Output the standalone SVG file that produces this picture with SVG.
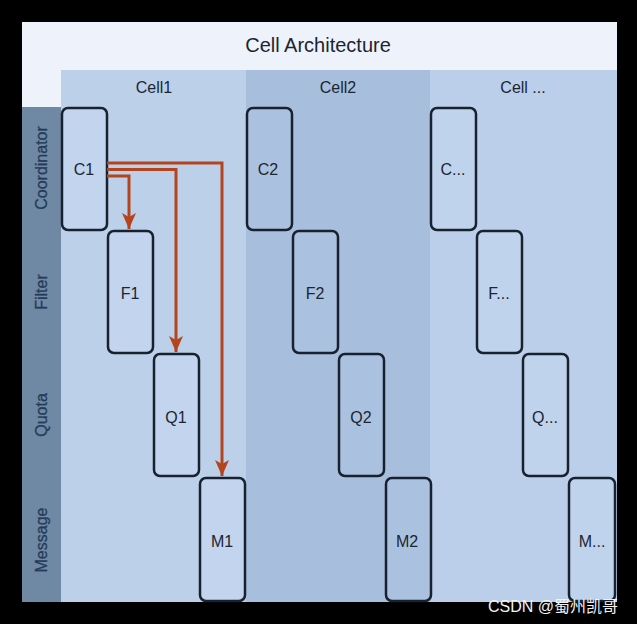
<svg xmlns="http://www.w3.org/2000/svg" width="637" height="624" viewBox="0 0 637 624">
<style>
.lbl{font-family:"Liberation Sans",Arial,sans-serif;fill:#1c2530;text-anchor:middle}
.node rect{stroke:#18222e;stroke-width:2.5}
.row{font-family:"Liberation Sans",Arial,sans-serif;fill:#243c58;font-size:16px;text-anchor:middle;stroke:#243c58;stroke-width:0.3}
.wire{fill:none;stroke:#b3441e;stroke-width:3}
</style>
<defs>
<marker id="ah" viewBox="0 0 16 14" refX="16" refY="7" markerWidth="16" markerHeight="14" markerUnits="userSpaceOnUse" orient="auto">
<path d="M0,0 L16,7 L0,14 L4,7 Z" fill="#b3441e"/>
</marker>
</defs>
<rect width="637" height="624" fill="#000"/>
<rect x="22" y="22" width="595" height="580" fill="#eef3fb"/>
<g id="cells">
<rect x="61" y="70" width="185" height="532" fill="#bcd0ea"/>
<rect x="246" y="70" width="184" height="532" fill="#a7bfdd"/>
<rect x="430" y="70" width="187" height="532" fill="#bbcfea"/>
</g>
<rect x="22" y="107" width="39" height="495" fill="#6f89a5"/>
<text class="lbl" x="318" y="52" font-size="20">Cell Architecture</text>
<text class="lbl" x="154" y="93" font-size="16">Cell1</text>
<text class="lbl" x="338" y="93" font-size="16">Cell2</text>
<text class="lbl" x="523" y="93" font-size="16">Cell ...</text>
<g id="rows">
<text class="row" transform="translate(47,168) rotate(-90)">Coordinator</text>
<text class="row" transform="translate(47,292) rotate(-90)">Filter</text>
<text class="row" transform="translate(47,415) rotate(-90)">Quota</text>
<text class="row" transform="translate(47,540) rotate(-90)">Message</text>
</g>
<g id="C1" class="node"><rect x="62" y="108" width="45" height="122" rx="6" fill="#c2d4ee"/><text class="lbl" x="84" y="175" font-size="16">C1</text></g>
<g id="F1" class="node"><rect x="108" y="231" width="45" height="122" rx="6" fill="#c2d4ee"/><text class="lbl" x="130" y="299" font-size="16">F1</text></g>
<g id="Q1" class="node"><rect x="154" y="354" width="45" height="122" rx="6" fill="#c2d4ee"/><text class="lbl" x="176" y="423" font-size="16">Q1</text></g>
<g id="M1" class="node"><rect x="200" y="478" width="45" height="123" rx="6" fill="#c2d4ee"/><text class="lbl" x="222" y="547" font-size="16">M1</text></g>
<g id="C2" class="node"><rect x="247" y="108" width="45" height="122" rx="6" fill="#aac2df"/><text class="lbl" x="268" y="175" font-size="16">C2</text></g>
<g id="F2" class="node"><rect x="293" y="231" width="45" height="122" rx="6" fill="#aac2df"/><text class="lbl" x="315" y="299" font-size="16">F2</text></g>
<g id="Q2" class="node"><rect x="339" y="354" width="45" height="122" rx="6" fill="#aac2df"/><text class="lbl" x="361" y="423" font-size="16">Q2</text></g>
<g id="M2" class="node"><rect x="386" y="478" width="45" height="123" rx="6" fill="#aac2df"/><text class="lbl" x="407" y="547" font-size="16">M2</text></g>
<g id="Cn" class="node"><rect x="431" y="108" width="45" height="122" rx="6" fill="#c0d3ed"/><text class="lbl" x="453" y="175" font-size="16">C...</text></g>
<g id="Fn" class="node"><rect x="477" y="231" width="45" height="122" rx="6" fill="#c0d3ed"/><text class="lbl" x="499" y="299" font-size="16">F...</text></g>
<g id="Qn" class="node"><rect x="523" y="354" width="45" height="122" rx="6" fill="#c0d3ed"/><text class="lbl" x="545" y="423" font-size="16">Q...</text></g>
<g id="Mn" class="node"><rect x="569" y="478" width="46" height="123" rx="6" fill="#c0d3ed"/><text class="lbl" x="592" y="547" font-size="16">M...</text></g>
<g id="connectors">
<path class="wire" d="M107,163 H222 V476" marker-end="url(#ah)"/>
<path class="wire" d="M107,169.5 H176 V352" marker-end="url(#ah)"/>
<path class="wire" d="M107,176 H129 V229" marker-end="url(#ah)"/>
</g>
<text x="553" y="612" font-family="Liberation Sans,'Noto Sans CJK SC',sans-serif" font-size="16" fill="#f2f2f2" text-anchor="middle">CSDN @蜀州凯哥</text>
</svg>
